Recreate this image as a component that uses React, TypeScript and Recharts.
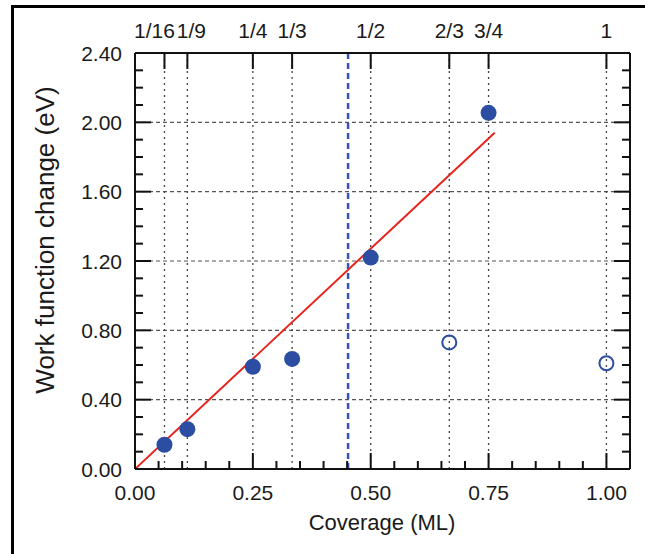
import React from 'react';
import { ComposedChart, XAxis, YAxis, Scatter, ReferenceLine } from 'recharts';

// ---- data ----
const filledPoints = [
  { x: 0.0625, y: 0.14 },
  { x: 0.1111, y: 0.23 },
  { x: 0.25, y: 0.59 },
  { x: 0.3333, y: 0.635 },
  { x: 0.5, y: 1.22 },
  { x: 0.75, y: 2.055 },
];
const openPoints = [
  { x: 0.6667, y: 0.73 },
  { x: 1.0, y: 0.61 },
];
const fitLine = [
  { x: 0, y: 0 },
  { x: 0.763, y: 1.94 },
];
const markerX = 0.452;

const bottomTicks = [0, 0.05, 0.1, 0.15, 0.2, 0.25, 0.3, 0.35, 0.4, 0.45, 0.5, 0.55, 0.6, 0.65, 0.7, 0.75, 0.8, 0.85, 0.9, 0.95, 1.0];
const bottomMajor = [0, 0.25, 0.5, 0.75, 1.0];
const topTicks = [0.0625, 0.1111, 0.25, 0.3333, 0.5, 0.6667, 0.75, 1.0];
const topLabels = ['1/16', '1/9', '1/4', '1/3', '1/2', '2/3', '3/4', '1'];
const yTicks = [0, 0.1, 0.2, 0.3, 0.4, 0.5, 0.6, 0.7, 0.8, 0.9, 1.0, 1.1, 1.2, 1.3, 1.4, 1.5, 1.6, 1.7, 1.8, 1.9, 2.0, 2.1, 2.2, 2.3, 2.4];
const yMajor = [0, 0.4, 0.8, 1.2, 1.6, 2.0, 2.4];
const gridY = [0.4, 0.8, 1.2, 1.6, 2.0];

// ---- styles ----
const FONT = '"Liberation Sans", Arial, Helvetica, sans-serif';
const TEXT = '#1a1a1a';
const AXIS = '#111';
const BLUE = '#2b4ea2';
const RED = '#e8231e';
const MAJOR_LEN = 16;
const MINOR_LEN = 8;
const TICK_FS = 21;
const topShift: Record<string, number> = { '1/16': -10, '1/9': 4 };

const isIn = (arr: number[], v: number) => arr.some((a) => Math.abs(a - v) < 1e-6);

const BottomTick = (props: any) => {
  const { x, y, payload } = props;
  const major = isIn(bottomMajor, payload.value);
  return (
    <g>
      <line x1={x} x2={x} y1={y} y2={y - (major ? MAJOR_LEN : MINOR_LEN)} stroke={AXIS} strokeWidth={2} />
      {major && (
        <text x={x} y={y + 23} textAnchor="middle" dominantBaseline="central" fontSize={TICK_FS} fontFamily={FONT} fill={TEXT}>
          {Number(payload.value).toFixed(2)}
        </text>
      )}
    </g>
  );
};

const TopTick = (props: any) => {
  const { x, y, index } = props;
  const label = topLabels[index] ?? '';
  return (
    <g>
      <line x1={x} x2={x} y1={y} y2={y + MAJOR_LEN} stroke={AXIS} strokeWidth={2} />
      <text x={x + (topShift[label] ?? 0)} y={y - 23} textAnchor="middle" dominantBaseline="central" fontSize={TICK_FS} fontFamily={FONT} fill={TEXT}>
        {label}
      </text>
    </g>
  );
};

const LeftTick = (props: any) => {
  const { x, y, payload } = props;
  const major = isIn(yMajor, payload.value);
  return (
    <g>
      <line x1={x} x2={x + (major ? MAJOR_LEN : MINOR_LEN)} y1={y} y2={y} stroke={AXIS} strokeWidth={2} />
      {major && (
        <text x={x - 13} y={y} textAnchor="end" dominantBaseline="central" fontSize={TICK_FS} fontFamily={FONT} fill={TEXT}>
          {Number(payload.value).toFixed(2)}
        </text>
      )}
    </g>
  );
};

const RightTick = (props: any) => {
  const { x, y, payload } = props;
  const major = isIn(yMajor, payload.value);
  return <line x1={x} x2={x - (major ? MAJOR_LEN : MINOR_LEN)} y1={y} y2={y} stroke={AXIS} strokeWidth={2} />;
};

const FilledDot = (p: any) => <circle cx={p.cx} cy={p.cy} r={8} fill={BLUE} />;
const OpenDot = (p: any) => <circle cx={p.cx} cy={p.cy} r={7} fill="none" stroke={BLUE} strokeWidth={2} />;
const NoDot = () => <g />;

export default function App() {
  return (
    <div style={{ position: 'fixed', left: 0, top: 0, width: 645, height: 554, overflow: 'hidden', background: '#fff' }}>
      <div style={{ position: 'absolute', left: 11, top: 5, width: 800, height: 800, border: '3px solid #000' }} />
      <div style={{ position: 'absolute', left: 0, top: 0 }}>
        <ComposedChart width={645} height={554} margin={{ top: 0, right: 0, bottom: 0, left: 0 }}>
          <XAxis
            xAxisId="bottom"
            dataKey="x"
            type="number"
            domain={[0, 1.05]}
            ticks={bottomTicks}
            interval={0}
            height={85}
            tickSize={0}
            tickMargin={0}
            tickLine={false}
            axisLine={{ stroke: AXIS, strokeWidth: 2 }}
            tick={<BottomTick />}
            allowDataOverflow
            label={{
              content: () => (
                <text x={382} y={522} textAnchor="middle" dominantBaseline="central" fontSize={22} fontFamily={FONT} fill={TEXT}>
                  Coverage (ML)
                </text>
              ),
            }}
          />
          <XAxis
            xAxisId="top"
            orientation="top"
            dataKey="x"
            type="number"
            domain={[0, 1.05]}
            ticks={topTicks}
            interval={0}
            height={53}
            tickSize={0}
            tickMargin={0}
            tickLine={false}
            axisLine={{ stroke: AXIS, strokeWidth: 2 }}
            tick={<TopTick />}
            allowDataOverflow
          />
          <YAxis
            yAxisId="left"
            dataKey="y"
            type="number"
            domain={[0, 2.4]}
            ticks={yTicks}
            interval={0}
            width={135}
            tickSize={0}
            tickMargin={0}
            tickLine={false}
            axisLine={{ stroke: AXIS, strokeWidth: 2 }}
            tick={<LeftTick />}
            allowDataOverflow
            label={{
              content: () => (
                <text x={45} y={240} transform="rotate(-90 45 240)" textAnchor="middle" dominantBaseline="central" fontSize={26} fontFamily={FONT} fill={TEXT}>
                  Work function change (eV)
                </text>
              ),
            }}
          />
          <YAxis
            yAxisId="right"
            orientation="right"
            dataKey="y"
            type="number"
            domain={[0, 2.4]}
            ticks={yTicks}
            interval={0}
            width={15}
            tickSize={0}
            tickMargin={0}
            tickLine={false}
            axisLine={{ stroke: AXIS, strokeWidth: 2 }}
            tick={<RightTick />}
            allowDataOverflow
          />
          {gridY.map((v) => (
            <ReferenceLine key={'gy' + v} y={v} xAxisId="bottom" yAxisId="left" stroke="#555" strokeWidth={1.2} strokeDasharray="4 3" />
          ))}
          {topTicks.map((v) => (
            <ReferenceLine key={'gx' + v} x={v} xAxisId="top" yAxisId="left" stroke="#444" strokeWidth={1.3} strokeDasharray="2 4" />
          ))}
          <ReferenceLine x={markerX} xAxisId="bottom" yAxisId="left" stroke="#3354c0" strokeWidth={2.5} strokeDasharray="6 4" />
          <Scatter
            data={fitLine}
            xAxisId="bottom"
            yAxisId="left"
            fill={RED}
            line={{ stroke: RED, strokeWidth: 2 }}
            shape={<NoDot />}
            isAnimationActive={false}
          />
          <Scatter data={filledPoints} xAxisId="bottom" yAxisId="left" fill={BLUE} shape={<FilledDot />} isAnimationActive={false} />
          <Scatter data={openPoints} xAxisId="bottom" yAxisId="left" fill={BLUE} shape={<OpenDot />} isAnimationActive={false} />
        </ComposedChart>
      </div>
    </div>
  );
}
